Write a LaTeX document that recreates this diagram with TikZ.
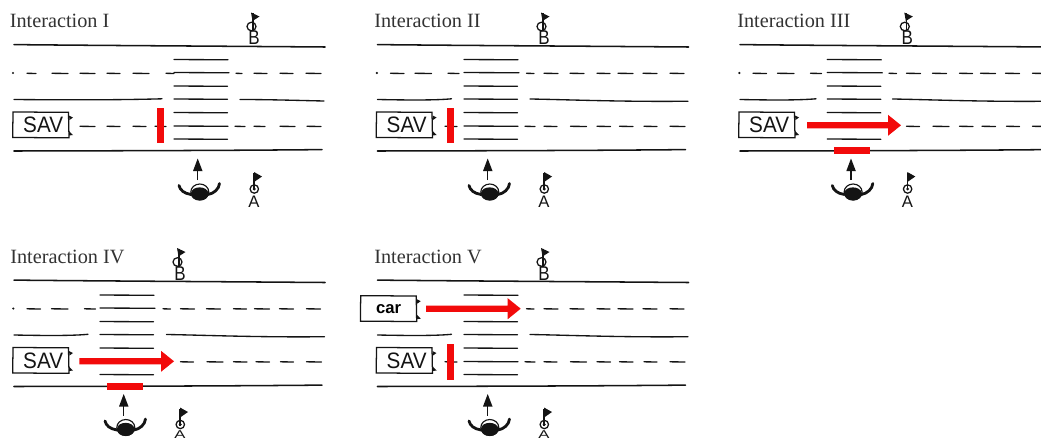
\documentclass[tikz,border=0pt]{standalone}
\usepackage{graphicx}
\usepackage{fontspec}
\setmainfont{Liberation Serif}
\newfontfamily\handfont{Liberation Sans}
\definecolor{inkc}{HTML}{141414}
\definecolor{titlec}{HTML}{333333}
\definecolor{signalred}{HTML}{F20A0A}
\tikzset{
  ink/.style={draw=inkc, line width=1pt, line cap=round},
  kerb/.style={draw=inkc, line width=1.15pt, line cap=round},
  vehicle/.style={draw=inkc, line width=0.95pt, fill=white},
  title/.style={anchor=base west, inner sep=0pt, text=titlec, font=\fontsize{15.2}{16}\selectfont},
  vlabel/.style={inner sep=0pt, xshift=1.6pt, text=inkc, font=\handfont\fontsize{15.5}{16}\selectfont},
  carlabel/.style={inner sep=0pt, text=black, font=\handfont\bfseries\fontsize{12.5}{14}\selectfont},
  pletter/.style={inner sep=0pt, text=inkc},
  redmark/.style={fill=signalred, draw=none}
}
% Road edges shared by every panel
\newcommand{\roadedges}{
  \draw[kerb] (14,44.6) .. controls (100,45.5) and (200,46) .. (325,47);
  \draw[kerb] (14,151) .. controls (100,150.8) and (220,150.6) .. (322,149.6);
}
% Lane markings: list of start/end pairs at height y, each stroke slightly bent
\newcommand{\dashrow}[2]{
  \edef\dashlist{#2}
  \foreach \a/\b in \dashlist
    \draw[ink] (\a,#1+0.3) .. controls (\a/2+\b/2,#1-0.2) .. (\b,#1+0.5);
}
% Vehicle box with its two headlamps; #1 name, #2 x, #3 y, #4 style, #5 text
\newcommand{\vehiclebox}[5]{
  \draw[vehicle] (#2,#3) -- (#2+55.5,#3+0.3) -- (#2+56,#3+25.8) -- (#2-0.3,#3+25.5) -- cycle;
  \fill[inkc] (#2+56,#3+3.5) -- (#2+60,#3+5.5) -- (#2+56.5,#3+8) -- cycle;
  \fill[inkc] (#2+56,#3+19) -- (#2+60,#3+23) -- (#2+56,#3+23.5) -- cycle;
  \node[#4] (#1) at (#2+28,#3+13) {#5};
}
% Crossing stripes, walker and the two flagged points; #1 prefix, #2 letter A
\newcommand{\crossing}[2]{
  \foreach \yy/\ee in {59.5/228,72.5/229,86/227.5,99/227.5,112.5/227.5,126/228,139/227.5}
    \draw[ink] (174,\yy) -- (\ee,\yy+0.3);
  % walker with raised arms, seen from above
  \draw[inkc, line width=0.85pt, fill=white] (199.8,192) ellipse (9 and 8);
  \fill[inkc] (191,193) .. controls (192,185.5) and (207,185.5) .. (208.5,193)
     .. controls (208.5,198) and (204,200.6) .. (200,200.4)
     .. controls (195,200.6) and (191,198) .. (191,193) -- cycle;
  \draw[inkc, line width=2.1pt, line cap=round] (179,185.5) .. controls (180,190) and (184,193.5) .. (191,194.5);
  \draw[inkc, line width=2.1pt, line cap=round] (219.5,183.5) .. controls (219,189) and (214,193.5) .. (208,194.5);
  \draw[inkc, line width=1.1pt] (197.7,180) -- (197.7,167);
  \fill[inkc] (193,171) -- (202.5,171) -- (197.7,158.5) -- cycle;
  % flag B, standing on the far kerb
  \draw[inkc, line width=0.95pt] (253,13) -- (253,31);
  \fill[inkc] (251,12.5) -- (259.5,16.5) -- (252.5,21) -- cycle;
  \draw[inkc, line width=0.95pt] (251.5,26.5) ellipse (4.5 and 4.3);
  \node[pletter, font=\handfont\fontsize{15}{16}\selectfont] (#1b) at (254,38) {\scalebox{.85}[1]{B}};
  % flag A, on the near side
  \draw[inkc, line width=0.95pt] (254,173) -- (254,190);
  \fill[inkc] (254,172) -- (262,176.5) -- (254.8,181.5) -- cycle;
  \draw[inkc, line width=0.95pt] (254.3,189) circle (4.2);
  \fill[inkc] (254.3,189) circle (1.6);
  #2
}
% The letter A at full height, and pressed to fit above the lower edge
\newcommand{\letterfull}[1]{\node[pletter, font=\handfont\fontsize{12.5}{14}\selectfont] (#1) at (254,201.3) {A};}
\newcommand{\letterlow}[1]{\node[pletter, font=\handfont\fontsize{12.5}{14}\selectfont] (#1) at (254,198.6) {\scalebox{1}[.68]{A}};}
% Block-shaped red arrow; #1 tail x, #2 tip x, #3 y
\newcommand{\redarrow}[3]{
  \fill[signalred] (#1,#3-3.1) -- (#2-13,#3-3.1) -- (#2-13,#3-10.5) -- (#2,#3)
     -- (#2-13,#3+10.5) -- (#2-13,#3+3.1) -- (#1,#3+3.1) -- cycle;
}
\newcommand{\savtext}{\scalebox{1}[1.08]{SAV}}
% Lane dashes for the panels whose crossing sits further left
\def\upperleft{27/40.5,51.5/68,84.5/95.5}
\def\upperright{163/170.5,180.5/194.5,206.5/220.5,233.5/246.5,254.5/269.5,279.5/293.5,306.5/320.5}
\def\lowerright{180.5/193.5,207/223,233.5/247,256/269.5,280.5/293.5,306.5/321.5}
\begin{document}
\begin{tikzpicture}[x=0.75pt,y=-0.75pt]
\clip (0,0) rectangle (1041,439);
\fill[white] (0,0) rectangle (1041,439);

% ---- Interaction I ----
\node[title] (t1) at (9.5,27) {Interaction I};
\roadedges
\fill[inkc] (13,73) circle (1.2);
\dashrow{73}{27/36,52/68,80/95,107/120,133/149,166/174,236/242,254/267,280/293,306/321}
\draw[ink] (14,99.5) .. controls (70,100) and (120,100) .. (162,98.8);
\draw[ink] (240,99.5) .. controls (270,99.5) and (300,100.5) .. (324,101);
\dashrow{126}{80/95,107/120,133/146,155/166,235/245,254/265,280/295,307/321}
\crossing{p1}{\letterfull{p1a}}
\vehiclebox{p1sav}{13}{112}{vlabel}{\savtext}
\fill[redmark] (156.5,108) rectangle (163.5,143);

% ---- Interaction II ----
\node[title] (t2) at (374,27) {Interaction II};
\begin{scope}[shift={(363.5,0)}]
  \roadedges
  \fill[inkc] (13.3,73) circle (1.2);
  \dashrow{73}{\upperleft}
  \dashrow{73}{\upperright}
  \draw[ink] (14,99.5) .. controls (40,100) and (70,100.5) .. (88,98.8);
  \draw[ink] (166.5,99) .. controls (200,99.5) and (260,102) .. (324.5,101.2);
  \dashrow{126}{81.5/93.5,161.5/171.5}
  \dashrow{126}{\lowerright}
  \begin{scope}[shift={(-73.5,0)}]\crossing{p2}{\letterfull{p2a}}\end{scope}
  \vehiclebox{p2sav}{13}{112}{vlabel}{\savtext}
\end{scope}
\fill[redmark] (447,108) rectangle (453.7,143);

% ---- Interaction III ----
\node[title] (t3) at (737,27) {Interaction III};
\begin{scope}[shift={(726,0)}]
  \roadedges
  \fill[inkc] (13.3,73) circle (1.2);
  \dashrow{73}{\upperleft}
  \dashrow{73}{\upperright}
  \draw[ink] (14,99.5) .. controls (40,100) and (70,100.5) .. (90,98.8);
  \draw[ink] (166.5,99) .. controls (200,99.5) and (260,102) .. (324.5,101.2);
  \dashrow{126}{\lowerright}
  \begin{scope}[shift={(-72.7,0)}]\crossing{p3}{\letterfull{p3a}}\end{scope}
  \vehiclebox{p3sav}{13}{112}{vlabel}{\savtext}
\end{scope}
\redarrow{807}{901}{125.3}
\fill[redmark] (834,147) rectangle (869.7,154);

% ---- Interaction IV ----
\node[title] (t4) at (10,263) {Interaction IV};
\begin{scope}[shift={(0,235.5)}]
  \roadedges
  \fill[inkc] (13.3,73) circle (1.2);
  \dashrow{73}{\upperleft}
  \dashrow{73}{\upperright}
  \draw[ink] (14,99.5) .. controls (40,100) and (70,100.5) .. (88,98.8);
  \draw[ink] (166.5,99) .. controls (200,99.5) and (260,102) .. (324.5,101.2);
  \dashrow{126}{\lowerright}
  \begin{scope}[shift={(-74,0)}]\crossing{p4}{\letterlow{p4a}}\end{scope}
  \vehiclebox{p4sav}{13}{112}{vlabel}{\savtext}
\end{scope}
\redarrow{79.3}{174}{361.3}
\fill[redmark] (107,383) rectangle (142.7,390);

% ---- Interaction V ----
\node[title] (t5) at (374,263) {Interaction V};
\begin{scope}[shift={(363.5,235.5)}]
  \roadedges
  \dashrow{73}{\upperright}
  \draw[ink] (14,99.5) .. controls (40,100) and (70,100.5) .. (88,98.8);
  \draw[ink] (166.5,99) .. controls (200,99.5) and (260,102) .. (324.5,101.2);
  \dashrow{126}{81.5/93.5,161.5/171.5}
  \dashrow{126}{\lowerright}
  \begin{scope}[shift={(-73.5,0)}]\crossing{p5}{\letterlow{p5a}}\end{scope}
  \vehiclebox{p5sav}{13}{112}{vlabel}{\savtext}
  \vehiclebox{p5car}{-2.8}{60.2}{carlabel}{car}
\end{scope}
\redarrow{426}{520.7}{308.7}
\fill[redmark] (446.7,344.3) rectangle (453.7,380);
\end{tikzpicture}
\end{document}
